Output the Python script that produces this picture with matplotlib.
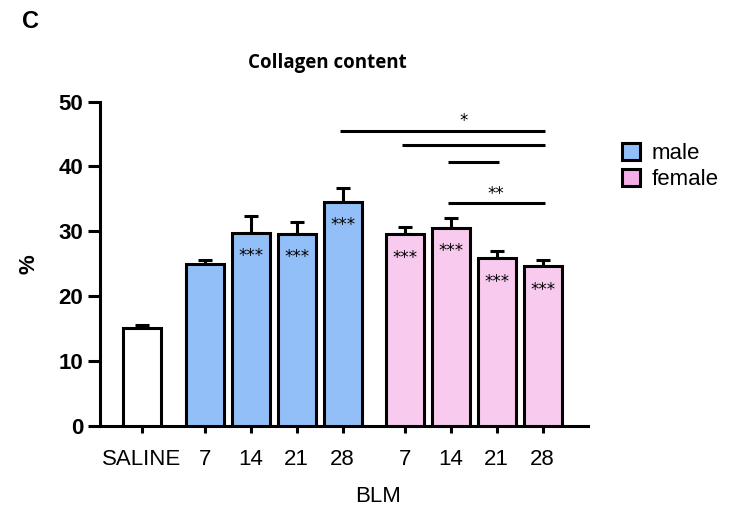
import numpy as np
import matplotlib.pyplot as plt
from matplotlib.patches import Patch

# values
labels = ["SALINE", "7", "14", "21", "28", "7", "14", "21", "28"]
means = [15.0, 24.9, 29.8, 29.6, 34.5, 29.5, 30.5, 25.8, 24.6]
errs = [0.5, 0.6, 2.5, 1.9, 2.1, 1.2, 1.5, 1.2, 1.0]
groups = ["saline", "male", "male", "male", "male",
          "female", "female", "female", "female"]
stars = ["", "", "***", "***", "***", "***", "***", "***", "***"]
xpos = [0, 1.37, 2.37, 3.37, 4.37, 5.72, 6.72, 7.72, 8.72]

# comparison brackets: (left bar, right bar, height, label, label x)
brackets = [(4, 8, 45.5, "*", 7.0), (5, 8, 43.3, "", 0), (6, 7, 40.7, "", 0),
            (6, 8, 34.3, "**", 7.7)]

colors = {"saline": "white", "male": "#93bff8", "female": "#f8caee"}

fig = plt.figure(figsize=(7.3, 5.08), dpi=100)
ax = fig.add_axes([0.137, 0.162, 0.668, 0.638])

bar_colors = [colors[g] for g in groups]
ax.bar(xpos, means, width=0.83, color=bar_colors, edgecolor="black", linewidth=2.2, zorder=3)
ax.errorbar(xpos, means, yerr=[np.zeros(len(errs)), errs], fmt="none", ecolor="black",
            elinewidth=2.2, capsize=5, capthick=2.2, zorder=2)

for x, m, s in zip(xpos, means, stars):
    if s:
        ax.text(x, m - 3.6, s, ha="center", va="center", fontsize=12, zorder=4)

for i, j, h, s, lx in brackets:
    ax.plot([xpos[i] - 0.05, xpos[j] + 0.05], [h, h], color="black", lw=2.2, solid_capstyle="butt")
    if s:
        ax.text(lx, h + 1.5, s, ha="center", va="center", fontsize=12)

ax.set_xlim(-0.91, 9.7)
ax.set_ylim(0, 50)
ax.set_yticks([0, 10, 20, 30, 40, 50])
ax.set_xticks(xpos)
ax.set_xticklabels(labels, fontsize=16, family="Liberation Sans")
for t in ax.get_yticklabels():
    t.set_fontsize(16)
    t.set_fontweight("bold")
    t.set_family("Liberation Sans")

for side in ["top", "right"]:
    ax.spines[side].set_visible(False)
for side in ["left", "bottom"]:
    ax.spines[side].set_linewidth(2.2)
ax.tick_params(axis="y", width=2.2, length=9, pad=3)
ax.tick_params(axis="x", width=2.2, length=5, pad=12)

ax.set_ylabel("%", fontsize=16, fontweight="bold", family="Liberation Sans", labelpad=14)
ax.set_xlabel("BLM", fontsize=16, family="Liberation Sans", labelpad=11, x=0.57)
ax.set_title("Collagen content", fontsize=13.5, fontweight="bold", family="Open Sans",
             pad=24, x=0.467)

fig.text(0.03, 0.958, "C", fontsize=17, fontweight="bold", family="Liberation Sans",
         ha="left", va="center")

# legend
handles = [Patch(facecolor="#93bff8", edgecolor="black", linewidth=2.2),
           Patch(facecolor="#f4aee8", edgecolor="black", linewidth=2.2)]
leg = fig.legend(handles, ["male", "female"], loc="upper left", bbox_to_anchor=(0.825, 0.758),
                 frameon=False, prop={"family": "Liberation Sans", "size": 16},
                 handlelength=0.8, handleheight=0.8, handletextpad=0.5, labelspacing=0.2)

fig.savefig("out.png", dpi=100)
